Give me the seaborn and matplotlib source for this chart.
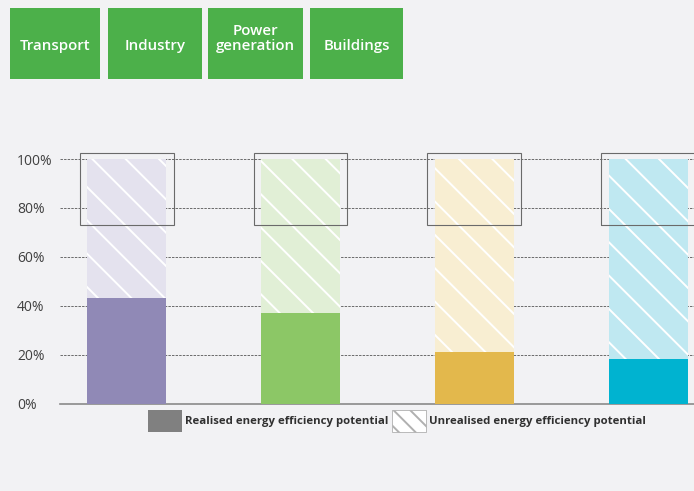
import matplotlib
matplotlib.use("Agg")
import matplotlib.pyplot as plt
from matplotlib.patches import Rectangle, Patch
import seaborn as sns
import pandas as pd

# ---- data ----
categories = ["Transport", "Industry", "Power generation", "Buildings"]
realised = [43, 37, 21, 18]          # % of potential realised
total = [100, 100, 100, 100]         # full potential
box_low = [73, 73, 73, 73]           # highlight box range (%)
box_high = [102.5, 102.5, 102.5, 102.5]
yticks = [0, 20, 40, 60, 80, 100]
ytick_labels = ["0%", "20%", "40%", "60%", "80%", "100%"]
legend_labels = ["Realised energy efficiency potential",
                 "Unrealised energy efficiency potential"]

dark_colors = ["#9089b6", "#8cc766", "#e3b84c", "#00b3d0"]
light_colors = ["#e4e2ee", "#e1efd6", "#f8eed2", "#bfe8f1"]
bg = "#f2f2f4"

W, H, DPI = 694, 491, 200
sns.set_theme(style="white")
plt.rcParams["font.family"] = ["Open Sans", "DejaVu Sans"]
plt.rcParams["hatch.linewidth"] = 0.7
plt.rcParams["hatch.color"] = "white"

fig = plt.figure(figsize=(W / DPI, H / DPI), dpi=DPI, facecolor=bg)
ax = fig.add_axes([60 / W, 1 - 403.5 / H, 1 - 60 / W, 256.7 / H])
ax.set_facecolor(bg)

df = pd.DataFrame({"category": categories, "realised": realised, "total": total})

sns.barplot(data=df, x="category", y="total", hue="category",
            palette=dict(zip(categories, light_colors)), order=categories,
            width=0.455, hatch="\\\\", edgecolor="white", linewidth=0,
            saturation=1, legend=False, ax=ax, zorder=2)
sns.barplot(data=df, x="category", y="realised", hue="category",
            palette=dict(zip(categories, dark_colors)), order=categories,
            width=0.455, linewidth=0, saturation=1, legend=False, ax=ax, zorder=3)

# highlight boxes around the top of each bar
bw = 0.54
for i, (lo, hi) in enumerate(zip(box_low, box_high)):
    ax.add_patch(Rectangle((i - bw / 2, lo), bw, hi - lo, fill=False,
                           edgecolor="#6a6a6a", linewidth=0.4, zorder=4,
                           clip_on=False))

ax.set_xlim(-0.384, 3.264)
ax.set_ylim(0, 105)
ax.set_yticks(yticks)
ax.set_yticklabels(ytick_labels)
ax.set_xticks([])
ax.set_xlabel("")
ax.set_ylabel("")
ax.yaxis.grid(True, color="#6a6a6a", linestyle=(0, (2.5, 1.2)), linewidth=0.35)
ax.set_axisbelow(True)
for s in ["top", "right", "left"]:
    ax.spines[s].set_visible(False)
ax.spines["bottom"].set_color("#8a8a8a")
ax.spines["bottom"].set_linewidth(0.6)
ax.tick_params(axis="y", length=0, pad=15.5, labelsize=5.0, labelcolor="#404040")
for lab in ax.get_yticklabels():
    lab.set_horizontalalignment("left")

# header category boxes
header_x = [(10, 100), (108, 202), (208, 303), (310, 403)]
for (x0, x1), name in zip(header_x, categories):
    fig.patches.append(Rectangle((x0 / W, 1 - 79 / H), (x1 - x0) / W, 71 / H,
                                 transform=fig.transFigure, facecolor="#4cb04a",
                                 edgecolor="none", zorder=1))
    label = name.replace(" ", "\n") if len(name) > 12 else name
    fig.text((x0 + x1) / 2 / W, 1 - 53 / H, label, ha="center", va="bottom",
             color="white", fontsize=5.4, fontweight="semibold",
             linespacing=1.05, zorder=2)

# legend
handles = [Patch(facecolor="#808080", edgecolor="none"),
           Patch(facecolor="white", edgecolor="#b0b0b0", hatch="\\\\\\\\",
                 linewidth=0.3)]
leg = fig.legend(handles, legend_labels, loc="center left",
                 bbox_to_anchor=(148 / W, 1 - 421 / H), ncol=2, frameon=False,
                 prop={"size": 4.1, "weight": "bold"}, handlelength=2.95,
                 handleheight=2.6, handletextpad=0.3, columnspacing=0.35,
                 borderpad=0, borderaxespad=0)
for t in leg.get_texts():
    t.set_color("#303030")

fig.savefig("out.png", dpi=DPI, facecolor=bg)
